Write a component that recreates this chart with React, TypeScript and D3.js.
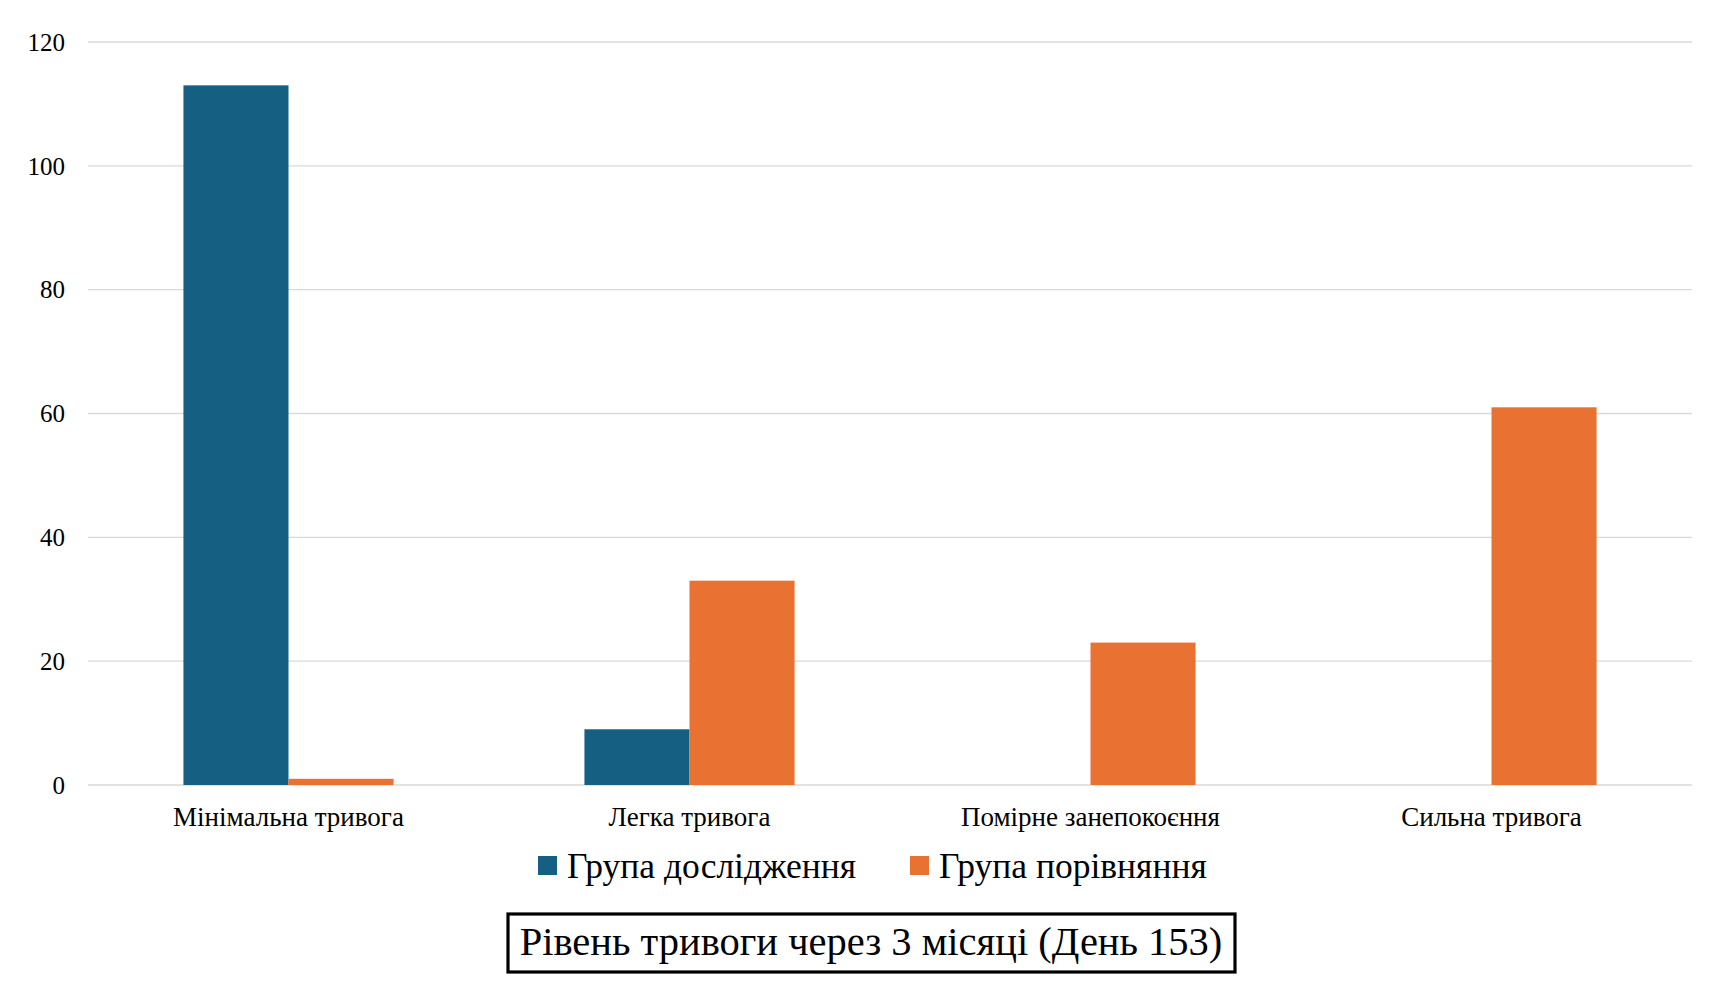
import * as d3 from 'd3';
import React, { useRef, useEffect } from 'react';

const categories = ['Мінімальна тривога', 'Легка тривога', 'Помірне занепокоєння', 'Сильна тривога'];
const seriesNames = ['Група дослідження', 'Група порівняння'];
const studyGroup = [113, 9, 0, 0];
const compareGroup = [1, 33, 23, 61];
const yTicks = [0, 20, 40, 60, 80, 100, 120];
const colors = ['#156082', '#E97132'];
const title = 'Рівень тривоги через 3 місяці (День 153)';

const App = () => {
    const svgRef = useRef<SVGSVGElement>(null);

    useEffect(() => {
        const width = 1721;
        const height = 991;
        const margin = { top: 42, right: 29, bottom: 206, left: 88 };
        const font = '"Liberation Serif", "Times New Roman", serif';

        const svg = d3.select(svgRef.current);
        svg.selectAll('*').remove();

        const x0 = d3.scaleBand()
            .domain(categories)
            .range([margin.left, width - margin.right])
            .paddingInner(0.476)
            .paddingOuter(0.238);

        const x1 = d3.scaleBand()
            .domain(seriesNames)
            .range([0, x0.bandwidth()]);

        const y = d3.scaleLinear()
            .domain([0, 120])
            .range([height - margin.bottom, margin.top]);

        // gridlines
        svg.append('g')
            .selectAll('line')
            .data(yTicks)
            .join('line')
            .attr('x1', margin.left)
            .attr('x2', width - margin.right)
            .attr('y1', (d) => y(d))
            .attr('y2', (d) => y(d))
            .attr('stroke', '#d9d9d9')
            .attr('stroke-width', 1.3);

        // y tick labels
        svg.append('g')
            .selectAll('text')
            .data(yTicks)
            .join('text')
            .attr('x', 65)
            .attr('y', (d) => y(d))
            .attr('dy', '0.35em')
            .attr('text-anchor', 'end')
            .style('font-family', font)
            .style('font-size', '25px')
            .attr('fill', '#000')
            .text((d) => d);

        const rows = categories.map((c, i) => ({ cat: c, values: [studyGroup[i], compareGroup[i]] }));

        const groups = svg.append('g')
            .selectAll('g')
            .data(rows)
            .join('g')
            .attr('transform', (d) => `translate(${x0(d.cat)},0)`);

        groups.selectAll('rect')
            .data((d) => d.values.map((v, k) => ({ key: seriesNames[k], value: v, k })))
            .join('rect')
            .attr('x', (d) => x1(d.key) as number)
            .attr('width', x1.bandwidth())
            .attr('y', (d) => y(d.value))
            .attr('height', (d) => y(0) - y(d.value))
            .attr('fill', (d) => colors[d.k]);

        // category labels
        svg.append('g')
            .selectAll('text')
            .data(categories)
            .join('text')
            .attr('x', (d) => (x0(d) as number) + x0.bandwidth() / 2)
            .attr('y', 826)
            .attr('text-anchor', 'middle')
            .style('font-family', font)
            .style('font-size', '27px')
            .attr('fill', '#000')
            .text((d) => d);

        // legend
        const legendX = [538, 910];
        const legend = svg.append('g')
            .selectAll('g')
            .data(seriesNames)
            .join('g')
            .attr('transform', (d, i) => `translate(${legendX[i]},0)`);

        legend.append('rect')
            .attr('x', 0)
            .attr('y', 856)
            .attr('width', 19)
            .attr('height', 19)
            .attr('fill', (d, i) => colors[i]);

        legend.append('text')
            .attr('x', 29)
            .attr('y', 878)
            .style('font-family', font)
            .style('font-size', '35.5px')
            .attr('fill', '#000')
            .text((d) => d);

        // title box
        svg.append('rect')
            .attr('x', 508)
            .attr('y', 914)
            .attr('width', 727)
            .attr('height', 58)
            .attr('fill', 'none')
            .attr('stroke', '#000')
            .attr('stroke-width', 3.2);

        svg.append('text')
            .attr('x', 871)
            .attr('y', 955)
            .attr('text-anchor', 'middle')
            .style('font-family', font)
            .style('font-size', '40.5px')
            .attr('fill', '#000')
            .text(title);
    }, []);

    return (
        <>
            <style>{'body { margin: 0; }'}</style>
            <svg ref={svgRef} width={1721} height={991} style={{ display: 'block', background: '#fff' }} />
        </>
    );
};

export default App;
